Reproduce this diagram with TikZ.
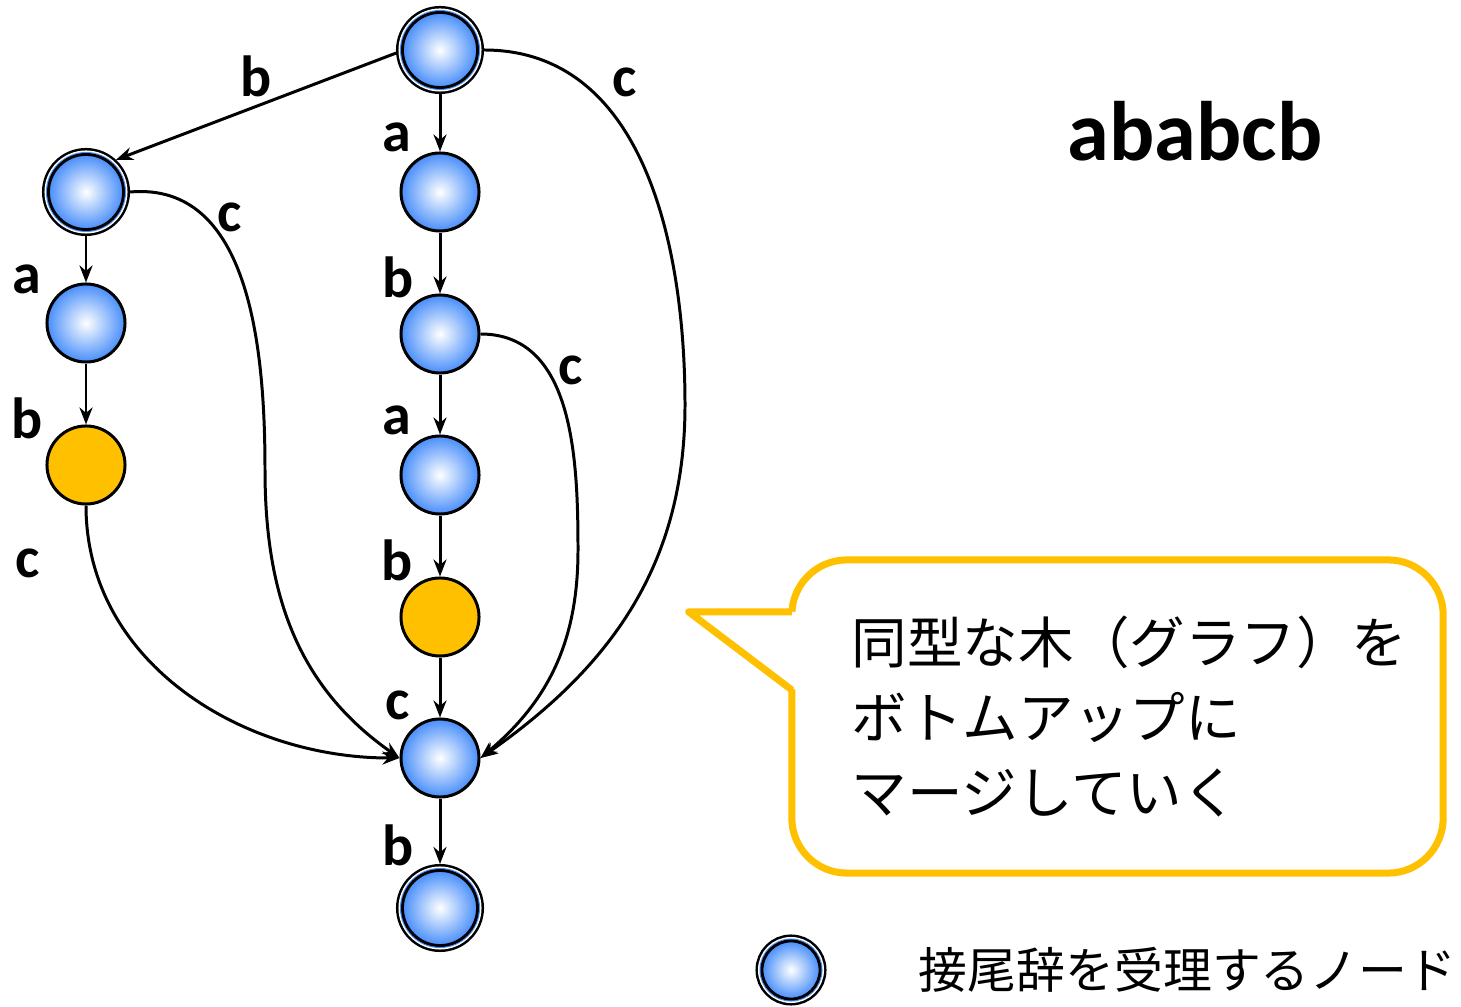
\documentclass[tikz,border=0pt]{standalone}
\usepackage{fontspec}
\setmainfont{Carlito}
\newfontfamily\jpfont{Noto Sans CJK JP}
\usetikzlibrary{arrows.meta, positioning}

\definecolor{nodeblue}{RGB}{72,142,250}
\definecolor{amber}{RGB}{255,192,0}

\tikzset{
  vtx/.style={circle, draw, line width=0.85pt, minimum size=0.78cm, inner sep=0pt},
  state/.style={vtx, inner color=white, outer color=nodeblue},
  deadend/.style={vtx, fill=amber},
  % accepting node: black ring, white gap, thin blue ring, black border
  accept/.style={circle, draw, line width=0.8pt, minimum size=0.75cm, inner sep=0pt,
    outer sep=0.065cm, inner color=white, outer color=nodeblue,
    preaction={draw=black, line width=0.13cm},
    preaction={draw=white, line width=0.08cm},
    preaction={draw=nodeblue, line width=0.05cm}},
  trans/.style={-{Stealth[length=0.17cm,width=0.13cm]}, line width=0.85pt},
  lbl/.style={font=\bfseries\fontsize{16.5}{16.5}\selectfont, inner sep=0pt},
  bubble/.style={draw=amber, line width=2pt, line join=round},
}

\begin{document}
\begin{tikzpicture}[x=0.01cm, y=-0.01cm]
  \path[fill=white] (0,0) rectangle (1461,1007);
  \useasboundingbox (0,0) rectangle (1461,1007);

  % ---------- right column ----------
  \node[accept]  (r)  at (440,50)  {};
  \node[state]   (a1) at (440,192) {};
  \node[state]   (a2) at (440,334) {};
  \node[state]   (a3) at (440,475) {};
  \node[deadend] (a4) at (440,617) {};
  \node[state]   (a5) at (440,758) {};
  \node[accept]  (a6) at (440,908) {};

  % ---------- left column ----------
  \node[accept]  (l0) at (86,192) {};
  \node[state]   (l1) at (86,323) {};
  \node[deadend] (l2) at (86,465) {};

  % ---------- transitions ----------
  \draw[trans] (r.184) -- (l0.47);
  \draw[trans] (r) -- (a1);
  \draw[trans] (a1) -- (a2);
  \draw[trans] (a2) -- (a3);
  \draw[trans] (a3) -- (a4);
  \draw[trans] (a4) -- (a5);
  \draw[trans] (a5) -- (a6);
  \draw[trans] (l0) -- (l1);
  \draw[trans] (l1) -- (l2);
  \draw[trans] (l2.south) to[out=-90,in=180] (a5.west);
  \draw[trans] (l0.east) to[out=5,in=90] (265,470) to[out=-90,in=145] (a5.west);
  \draw[trans] (a2.east) to[out=0,in=90] (578,550) to[out=-90,in=40] (a5.east);
  \draw[trans] (r.east) to[out=0,in=90] (685,405) to[out=-90,in=35] (a5.east);

  % ---------- labels ----------
  \node[lbl] (tb0) at (256,76)  {b};
  \node[lbl] (tc0) at (625,82)  {c};
  \node[lbl] (ta1) at (397,137) {a};
  \node[lbl] (tc1) at (230,217) {c};
  \node[lbl] (ta2) at (27,279)  {a};
  \node[lbl] (tb1) at (398,277) {b};
  \node[lbl] (tc2) at (571,370) {c};
  \node[lbl] (tb2) at (27,418)  {b};
  \node[lbl] (ta3) at (397,420) {a};
  \node[lbl] (tc3) at (28,563)  {c};
  \node[lbl] (tb3) at (397,560) {b};
  \node[lbl] (tc4) at (398,705) {c};
  \node[lbl] (tb4) at (398,845) {b};

  \node[font=\bfseries\fontsize{24}{24}\selectfont, inner sep=0pt] (word) at (1195,131) {ababcb};

  % ---------- speech bubble ----------
  \node[bubble, rounded corners=0.55cm, minimum width=6.51cm, minimum height=3.13cm,
        text width=5.31cm, inner xsep=0.6cm, align=left, outer sep=0pt,
        font=\jpfont\fontsize{15.8}{21.3}\selectfont] (note) at (1117.5,716.5)
    {同型な木（グラフ）を\\ボトムアップに\\マージしていく};
  \coordinate (ptop) at ([yshift=-0.52cm]note.north west);
  \coordinate (pbot) at ([yshift=-1.30cm]note.north west);
  \coordinate (tip) at ([xshift=-1.03cm]ptop);
  \fill[white] (tip) -- ([xshift=0.04cm]ptop) -- ([xshift=0.04cm]pbot) -- cycle;
  \draw[bubble] (ptop) -- (tip) -- (pbot);

  % ---------- legend ----------
  \node[accept, minimum size=0.58cm] (key) at (791,970) {};
  \node[anchor=west, inner sep=0pt, font=\jpfont\fontsize{13.9}{14}\selectfont] (keytext) at (918,970) {接尾辞を受理するノード};
\end{tikzpicture}
\end{document}
